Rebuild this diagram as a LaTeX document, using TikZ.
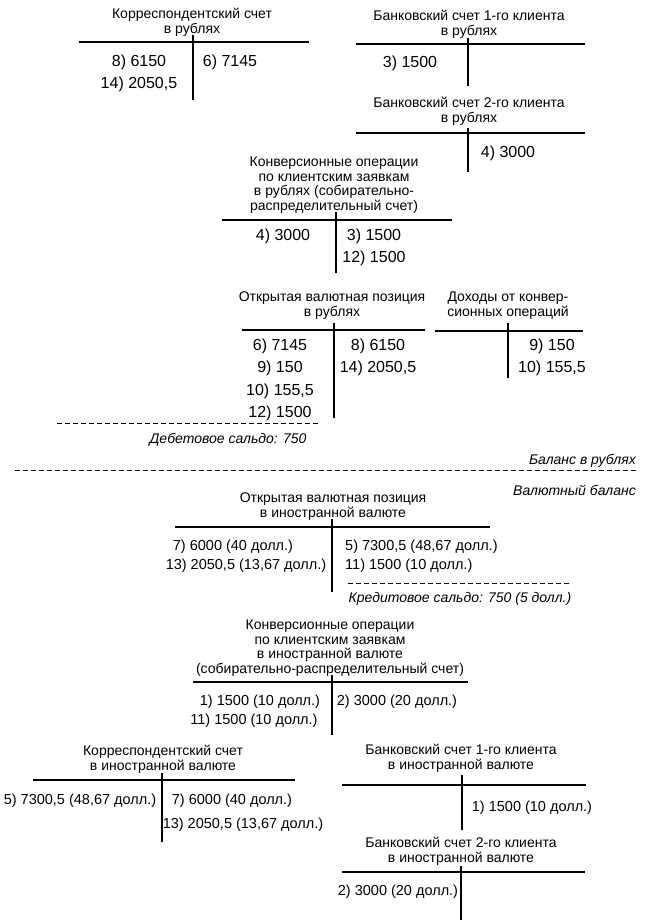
\documentclass[tikz,border=0pt]{standalone}
\usepackage{fontspec}
\setmainfont{Liberation Sans}

\begin{document}
\begin{tikzpicture}[x=1pt,y=-1pt,
  ttl/.style={align=center,inner sep=0pt,anchor=north,font=\fontsize{14}{14.5}\selectfont},
  ent/.style={inner sep=0pt,text height=11.5pt,text depth=0pt,font=\fontsize{16}{16}\selectfont},
  entv/.style={inner sep=0pt,text height=10.4pt,text depth=0pt,font=\fontsize{14.5}{14.5}\selectfont},
  sal/.style={inner sep=0pt,text height=10pt,text depth=0pt,font=\fontsize{14}{14}\selectfont\itshape},
  tline/.style={line width=1.2pt},
  sline/.style={line width=1pt,dash pattern=on 5pt off 3pt}
]
\useasboundingbox (0,0) rectangle (646,923);

% ================= Баланс в рублях =================
% ---- корреспондентский счет ----
\node[ttl] (krr-t) at (192,8) {Корреспондентский счет\\в рублях};
\draw[tline] (79,42) -- (309,42);
\draw[tline] (193,35) -- (193,100);
\foreach \v/\y [count=\i] in {{8) 6150}/61,{14) 2050,5}/83} {\node[ent] (krr-d\i) at (139,\y) {\v};}
\node[ent] (krr-c1) at (230,61) {6) 7145};

% ---- счет 1-го клиента ----
\node[ttl] (b1r-t) at (469,10) {Банковский счет 1-го клиента\\в рублях};
\draw[tline] (356,44) -- (585,44);
\draw[tline] (468,38) -- (468,86);
\node[ent] (b1r-d1) at (410,62) {3) 1500};

% ---- счет 2-го клиента ----
\node[ttl] (b2r-t) at (469,97) {Банковский счет 2-го клиента\\в рублях};
\draw[tline] (356,133) -- (585,133);
\draw[tline] (468,128) -- (468,172);
\node[ent] (b2r-c1) at (508,152) {4) 3000};

% ---- конверсионные операции ----
\node[ttl] (kor-t) at (334,157) {Конверсионные операции\\по клиентским заявкам\\в рублях (собирательно-\\распределительный счет)};
\draw[tline] (222,220) -- (452,220);
\draw[tline] (336,212) -- (336,273);
\node[ent] (kor-d1) at (283,235) {4) 3000};
\foreach \v/\y [count=\i] in {{3) 1500}/235,{12) 1500}/257} {\node[ent] (kor-c\i) at (374,\y) {\v};}

% ---- открытая валютная позиция ----
\node[ttl] (ovr-t) at (332,292) {Открытая валютная позиция\\в рублях};
\draw[tline] (242,330) -- (425,330);
\draw[tline] (334,323) -- (334,418);
\foreach \v/\y [count=\i] in {{6) 7145}/345,{9) 150}/367,{10) 155,5}/390,{12) 1500}/412} {\node[ent] (ovr-d\i) at (280,\y) {\v};}
\foreach \v/\y [count=\i] in {{8) 6150}/345,{14) 2050,5}/367} {\node[ent] (ovr-c\i) at (378,\y) {\v};}
\draw[sline] (57,423) -- (320,423);
\node[sal] (ovr-s) at (228,438) {Дебетовое сальдо: 750};

% ---- доходы ----
\node[ttl] (doh-t) at (508,292) {Доходы от конвер-\\сионных операций};
\draw[tline] (435,331) -- (583,331);
\draw[tline] (508,323) -- (508,378);
\foreach \v/\y [count=\i] in {{9) 150}/345,{10) 155,5}/367} {\node[ent] (doh-c\i) at (552,\y) {\v};}

% ---- граница ----
\node[sal,anchor=east] (bal-r) at (636,459) {Баланс в рублях};
\draw[sline] (15,470) -- (636,470);
\node[sal,anchor=east] (bal-v) at (636,490) {Валютный баланс};

% ================= Валютный баланс =================
% ---- открытая валютная позиция ----
\node[ttl] (ovv-t) at (333,493) {Открытая валютная позиция\\в иностранной валюте};
\draw[tline] (175,527) -- (490,527);
\draw[tline] (332,519) -- (332,592);
\node[entv] (ovv-d1) at (233,545) {7) 6000 (40 долл.)};
\node[entv] (ovv-d2) at (246,564) {13) 2050,5 (13,67 долл.)};
\node[entv,anchor=west] (ovv-c1) at (345,545) {5) 7300,5 (48,67 долл.)};
\node[entv,anchor=west] (ovv-c2) at (345,564) {11) 1500 (10 долл.)};
\draw[sline] (348,583) -- (572,583);
\node[sal] (ovv-s) at (460,597) {Кредитовое сальдо: 750 (5 долл.)};

% ---- конверсионные операции ----
\node[ttl] (kov-t) at (330,620) {Конверсионные операции\\по клиентским заявкам\\в иностранной валюте\\(собирательно-распределительный счет)};
\draw[tline] (193,682) -- (468,682);
\draw[tline] (332,675) -- (332,735);
\node[entv] (kov-d1) at (260,700) {1) 1500 (10 долл.)};
\node[entv] (kov-d2) at (254,719) {11) 1500 (10 долл.)};
\node[entv] (kov-c1) at (397,700) {2) 3000 (20 долл.)};

% ---- корреспондентский счет ----
\node[ttl] (krv-t) at (163,745) {Корреспондентский счет\\в иностранной валюте};
\draw[tline] (33,780) -- (295,780);
\draw[tline] (162,773) -- (162,842);
\node[entv] (krv-d1) at (80,799) {5) 7300,5 (48,67 долл.)};
\node[entv] (krv-c1) at (232,799) {7) 6000 (40 долл.)};
\node[entv] (krv-c2) at (243,823) {13) 2050,5 (13,67 долл.)};

% ---- счет 1-го клиента ----
\node[ttl] (b1v-t) at (461,744) {Банковский счет 1-го клиента\\в иностранной валюте};
\draw[tline] (342,785) -- (586,785);
\draw[tline] (462,775) -- (462,830);
\node[entv] (b1v-c1) at (532,806) {1) 1500 (10 долл.)};

% ---- счет 2-го клиента ----
\node[ttl] (b2v-t) at (461,837) {Банковский счет 2-го клиента\\в иностранной валюте};
\draw[tline] (342,872) -- (585,872);
\draw[tline] (461,866) -- (461,920);
\node[entv] (b2v-d1) at (398,890) {2) 3000 (20 долл.)};
\end{tikzpicture}
\end{document}
